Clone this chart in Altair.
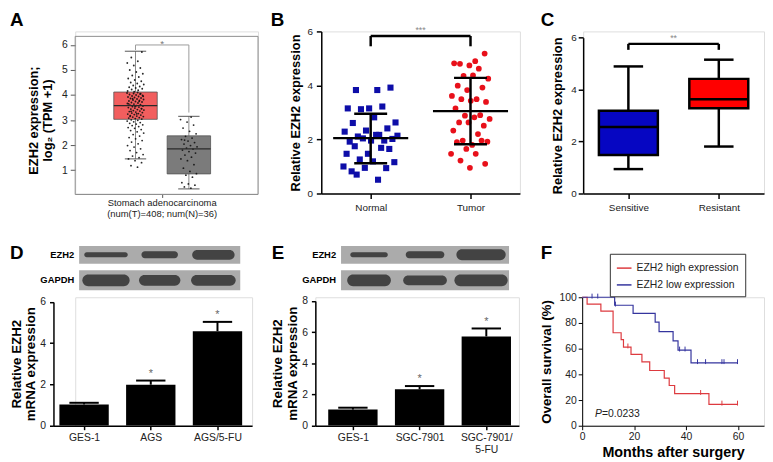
import altair as alt
import pandas as pd

FONT = "Liberation Sans"
LAB = "#222222"

# ---------------- Panel A data ----------------
a_groups = ["Tumor", "Normal"]
a_fill = ["#F25E5E", "#7B7B7B"]
a_lo = [1.45, 0.25]
a_q1 = [3.03, 0.85]
a_med = [3.58, 1.85]
a_q3 = [4.12, 2.37]
a_hi = [5.75, 3.15]
a_tumor = [
    1.12, 1.18, 1.3, 1.38, 1.45, 1.5, 1.56, 1.62, 1.7, 1.78, 1.85, 1.92, 1.98, 2.05, 2.12, 2.18, 2.25, 2.3, 2.36, 2.42, 2.48,
    2.53, 2.58, 2.62, 2.67, 2.7, 2.74, 2.78, 2.81, 2.84, 2.87, 2.9, 2.93, 2.96, 2.99, 3.01,
    3.04, 3.06, 3.08, 3.1, 3.12, 3.14, 3.16, 3.18, 3.2, 3.22, 3.24, 3.26, 3.28, 3.3, 3.32, 3.34, 3.36, 3.38,
    3.4, 3.42, 3.44, 3.46, 3.48, 3.5, 3.52, 3.54, 3.56, 3.58, 3.6, 3.62, 3.64, 3.66, 3.68, 3.7, 3.72, 3.74,
    3.76, 3.78, 3.8, 3.82, 3.84, 3.86, 3.88, 3.9, 3.92, 3.94, 3.96, 3.98, 4.0, 4.02, 4.04, 4.06, 4.08, 4.1,
    3.35, 3.45, 3.55, 3.65, 3.75, 3.85, 3.95, 3.25, 3.15, 4.05,
    4.13, 4.16, 4.19, 4.22, 4.25, 4.28, 4.31, 4.34, 4.38, 4.42, 4.46, 4.5, 4.55, 4.6, 4.66, 4.72, 4.78,
    4.85, 4.92, 5.0, 5.08, 5.18, 5.28, 5.35, 5.5, 5.72,
]
a_normal = [
    0.28, 0.33, 0.4, 0.45, 0.5, 0.72, 0.8, 0.86, 0.95, 1.08, 1.22, 1.38, 1.45, 1.52, 1.6, 1.68, 1.74, 1.8,
    1.84, 1.88, 1.93, 1.98, 2.04, 2.1, 2.16, 2.22, 2.28, 2.35, 2.45, 2.55, 2.68, 2.8, 2.92, 3.02, 3.12, 2.2,
]
a_sig = [6.0, 5.8, 3.3]
a_xlabel = "Stomach adenocarcinoma\n(num(T)=408; num(N)=36)"
a_ytitle = ["EZH2 expression;", "log\u2082 (TPM +1)"]

# ---------------- Panel B data ----------------
b_groups = ["Normal", "Tumor"]
b_normal = [3.83, 3.83, 3.92, 3.15, 3.15, 3.22, 3.12, 2.63, 2.82, 2.61, 2.41, 2.33, 2.29, 2.17, 2.11, 2.02,
            1.96, 1.92, 1.96, 2.04, 2.14, 2.17, 1.75, 1.65, 1.47, 1.47, 1.69, 1.26, 1.16, 1.19, 0.82, 0.94,
            0.95, 1.0, 0.51, 0.70]
b_tumor = [4.9, 4.8, 5.18, 4.74, 4.82, 4.62, 4.35, 4.25, 4.37, 3.99, 3.92, 3.83, 3.61, 3.49, 3.49, 3.39,
           3.43, 3.15, 2.9, 2.88, 2.76, 2.82, 2.63, 2.51, 2.63, 2.33, 2.2, 1.96, 1.92, 1.8, 1.9, 1.96, 1.65,
           1.47, 1.47, 1.22, 1.1, 0.95]
b_mean = [2.05, 3.05]
b_sd_lo = [1.12, 1.82]
b_sd_hi = [2.95, 4.28]
b_sig = [5.83, 5.45]

# ---------------- Panel C data ----------------
c_groups = ["Sensitive", "Resistant"]
c_fill = ["#0606C2", "#FF0000"]
c_lo = [0.93, 1.80]
c_q1 = [1.47, 3.28]
c_med = [2.55, 3.62]
c_q3 = [3.18, 4.41]
c_hi = [4.89, 5.15]
c_sig = [5.76, 5.53]

# ---------------- Panel D data ----------------
d_groups = ["GES-1", "AGS", "AGS/5-FU"]
d_mean = [1.02, 1.98, 4.58]
d_err = [1.10, 2.18, 5.03]
blot_rows = ["EZH2", "GAPDH"]
blot_top = [0.0, 1.1]
blot_bot = [0.8, 2.0]
d_band_w = [[0.81, 0.68, 0.79], [0.88, 0.77, 0.83]]
d_band_h = [[0.22, 0.31, 0.44], [0.53, 0.49, 0.49]]

# ---------------- Panel E data ----------------
e_groups = ["GES-1", "SGC-7901", "SGC-7901/\n5-FU"]
e_mean = [1.02, 2.32, 5.72]
e_err = [1.14, 2.53, 6.23]
e_band_w = [[0.67, 0.69, 0.88], [0.78, 0.78, 0.95]]
e_band_h = [[0.22, 0.31, 0.49], [0.53, 0.44, 0.53]]

# ---------------- Panel F data ----------------
f_groups = ["EZH2 high expression", "EZH2 low expression"]
f_colors = ["#DD3A3F", "#35359E"]
f_high_t = [0, 1.9, 7.2, 11.9, 15.0, 15.9, 18.8, 23.0, 26.0, 31.6, 33.5, 35.6, 48.8, 60.0]
f_high_s = [100, 94.6, 89.2, 72.4, 67.0, 61.2, 55.6, 49.7, 43.0, 37.0, 31.3, 25.0, 16.7, 16.7]
f_low_t = [0, 12.5, 19.6, 28.1, 29.6, 35.0, 36.9, 41.9, 60.0]
f_low_s = [100, 93.8, 87.5, 80.6, 73.3, 66.0, 58.8, 49.0, 49.0]
f_high_cens_t = [17.6, 45.6, 53.8, 59.8]
f_high_cens_s = [61.2, 25.0, 16.7, 16.7]
f_low_cens_t = [3.8, 6.0, 12.8, 37.5, 39.6, 44.4, 47.5, 53.8, 54.6, 59.8]
f_low_cens_s = [100, 100, 93.8, 58.8, 58.8, 49.0, 49.0, 49.0, 49.0, 49.0]
f_p_value = "=0.0233"

ONE = pd.DataFrame({"k": [0]})


def axis(**kw):
    base = dict(grid=False, labelFont=FONT, labelFontSize=10, labelColor=LAB, titleFont=FONT,
                titleFontWeight="bold", titleColor="black", domainColor="black", tickColor="black",
                labelPadding=3, labelFlush=False, labelOverlap=False)
    base.update(kw)
    return alt.Axis(**base)


def label_expr(names):
    parts = []
    for n in names:
        parts.append("[" + ",".join("'" + s + "'" for s in n.split("\n")) + "]")
    return "[" + ",".join(parts) + "][datum.value]"


def letter(ch, x, y):
    return alt.Chart(ONE).mark_text(text=ch, font=FONT, fontSize=19, fontWeight="bold", align="left",
                                    baseline="top", color="black").encode(x=alt.value(x), y=alt.value(y))


# ====================== Panel A ======================
xA = alt.Scale(domain=[-1.13, 2.296])
yA = alt.Scale(domain=[0, 6], range=[165.7, 13.7])
xAax = axis(values=[0.5], labels=False, domain=False, tickColor="#555", tickSize=4, title=None)
yAax = axis(values=[1, 2, 3, 4, 5, 6], domain=False, tickColor="#555", tickSize=5, labelFontSize=10.5,
            title=a_ytitle, titleFontSize=13, titleLineHeight=14, titlePadding=7)
XA = lambda f: alt.X(f, type="quantitative", scale=xA, axis=xAax)
YA = lambda f: alt.Y(f, type="quantitative", scale=yA, axis=yAax)

a_box = pd.DataFrame({"g": a_groups, "i": list(range(len(a_groups))), "lo": a_lo, "q1": a_q1,
                      "med": a_med, "q3": a_q3, "hi": a_hi})
a_base = alt.Chart(a_box).transform_calculate(l="datum.i - 0.407", r="datum.i + 0.407",
                                               cl="datum.i - 0.2", cr="datum.i + 0.2")
a_pts = pd.DataFrame({"g": [a_groups[0]] * len(a_tumor) + [a_groups[1]] * len(a_normal),
                      "i": [0] * len(a_tumor) + [1] * len(a_normal),
                      "v": a_tumor + a_normal})
a_br = pd.DataFrame({"x": [0, 0, 1], "x2": [1, 0, 1], "y": [a_sig[0]] * 3,
                     "y2": [a_sig[0], a_sig[1], a_sig[2]]})

A_frame = alt.Chart(ONE).mark_rect(fill="transparent", stroke="#8c8c8c", strokeWidth=1).encode(
    x=alt.value(0), x2=alt.value(185), y=alt.value(5), y2=alt.value(165))
A_wh = a_base.mark_rule(color="#8a8a8a", strokeWidth=1).encode(x=XA("i"), y=YA("hi"), y2=alt.Y2("q3"))
A_wl = a_base.mark_rule(color="#8a8a8a", strokeWidth=1).encode(x=XA("i"), y=YA("q1"), y2=alt.Y2("lo"))
A_ch = a_base.mark_rule(color="#555", strokeWidth=1).encode(x=XA("cl"), x2=alt.X2("cr"), y=YA("hi"))
A_cl = a_base.mark_rule(color="#555", strokeWidth=1).encode(x=XA("cl"), x2=alt.X2("cr"), y=YA("lo"))
A_box = a_base.mark_rect(stroke="#555", strokeWidth=0.8).encode(
    x=XA("l"), x2=alt.X2("r"), y=YA("q1"), y2=alt.Y2("q3"),
    fill=alt.Fill("g:N", scale=alt.Scale(domain=a_groups, range=a_fill), legend=None))
A_pts = alt.Chart(a_pts).transform_window(k="row_number()", groupby=["g"]).transform_calculate(
    xj="datum.i + ((datum.k * 0.618034) % 1 - 0.5) * 0.32").mark_circle(
    size=3.5, color="#111", opacity=0.9).encode(x=XA("xj"), y=YA("v"))
A_med = a_base.mark_rule(color="#2a2a2a", strokeWidth=1.2).encode(x=XA("l"), x2=alt.X2("r"), y=YA("med"))
A_br = alt.Chart(a_br).mark_rule(color="#9a9a9a", strokeWidth=1).encode(
    x=XA("x"), x2=alt.X2("x2"), y=YA("y"), y2=alt.Y2("y2"))
A_star = alt.Chart(pd.DataFrame({"x": [0.5], "y": [a_sig[0]], "t": ["*"]})).mark_text(
    font=FONT, fontSize=10, color="#777", baseline="middle", dy=-1).encode(x=XA("x"), y=YA("y"), text="t:N")
A_xl = alt.Chart(ONE).mark_text(text=a_xlabel, lineBreak="\n", font=FONT, fontSize=9.5, color=LAB,
                                baseline="top", align="center", lineHeight=11).encode(
    x=alt.value(88), y=alt.value(169))

panelA = alt.layer(A_frame, A_wh, A_wl, A_ch, A_cl, A_box, A_pts, A_med, A_br, A_star, A_xl,
                   letter("A", -66, -20)).properties(width=185, height=164)

# ====================== Panel B ======================
xB = alt.Scale(domain=[-0.495, 1.495])
yB = alt.Scale(domain=[0, 6])
xBax = axis(values=[0, 1], labelExpr=label_expr(b_groups), tickSize=5, domainWidth=1.5, tickWidth=1.5,
            labelPadding=4, title=None)
yBax = axis(values=[0, 2, 4, 6], tickSize=5, domainWidth=1.5, tickWidth=1.5, labelPadding=4,
            title="Relative EZH2 expression", titleFontSize=13, titlePadding=4)
XB = lambda f: alt.X(f, type="quantitative", scale=xB, axis=xBax)
YB = lambda f: alt.Y(f, type="quantitative", scale=yB, axis=yBax)

b_n = pd.DataFrame({"i": [0] * len(b_normal), "v": b_normal})
b_t = pd.DataFrame({"i": [1] * len(b_tumor), "v": b_tumor})
b_stats = pd.DataFrame({"i": [0, 1], "m": b_mean, "lo": b_sd_lo, "hi": b_sd_hi})
b_base = alt.Chart(b_stats).transform_calculate(ml="datum.i - 0.376", mr="datum.i + 0.376",
                                                 cl="datum.i - 0.165", cr="datum.i + 0.165")
b_br = pd.DataFrame({"x": [0, 0, 1], "x2": [1, 0, 1], "y": [b_sig[0]] * 3,
                     "y2": [b_sig[0], b_sig[1], b_sig[1]]})

B_n = alt.Chart(b_n).transform_window(k="row_number()").transform_calculate(
    xj="datum.i + ((datum.k * 0.618034) % 1 - 0.5) * 0.56").mark_square(
    size=38, color="#0d0da8", opacity=1).encode(x=XB("xj"), y=YB("v"))
B_t = alt.Chart(b_t).transform_window(k="row_number()").transform_calculate(
    xj="datum.i + ((datum.k * 0.618034) % 1 - 0.5) * 0.4").mark_circle(
    size=34, color="#E8101A", opacity=1).encode(x=XB("xj"), y=YB("v"))
B_mean = b_base.mark_rule(color="black", strokeWidth=2.5).encode(x=XB("ml"), x2=alt.X2("mr"), y=YB("m"))
B_sd = b_base.mark_rule(color="black", strokeWidth=2.5).encode(x=XB("i"), y=YB("lo"), y2=alt.Y2("hi"))
B_c1 = b_base.mark_rule(color="black", strokeWidth=2.5).encode(x=XB("cl"), x2=alt.X2("cr"), y=YB("lo"))
B_c2 = b_base.mark_rule(color="black", strokeWidth=2.5).encode(x=XB("cl"), x2=alt.X2("cr"), y=YB("hi"))
B_br = alt.Chart(b_br).mark_rule(color="black", strokeWidth=2.5).encode(
    x=XB("x"), x2=alt.X2("x2"), y=YB("y"), y2=alt.Y2("y2"))
B_star = alt.Chart(pd.DataFrame({"x": [0.5], "y": [b_sig[0]], "t": ["***"]})).mark_text(
    font=FONT, fontSize=9, color="#888", baseline="middle", dy=-6).encode(x=XB("x"), y=YB("y"), text="t:N")

panelB = alt.layer(B_n, B_t, B_mean, B_sd, B_c1, B_c2, B_br, B_star,
                   letter("B", -51, -20)).properties(width=201, height=164)

# ====================== Panel C ======================
xC = alt.Scale(domain=[-0.5, 1.5])
yC = alt.Scale(domain=[0, 6], range=[163.7, 6.3])
xCax = axis(values=[0, 1], labelExpr=label_expr(c_groups), tickSize=5, domainWidth=1.5, tickWidth=1.5,
            labelPadding=4, title=None)
yCax = axis(values=[0, 2, 4, 6], tickSize=5, domainWidth=1.5, tickWidth=1.5, labelPadding=2,
            title="Relative EZH2 expression", titleFontSize=13, titlePadding=6)
XC = lambda f: alt.X(f, type="quantitative", scale=xC, axis=xCax)
YC = lambda f: alt.Y(f, type="quantitative", scale=yC, axis=yCax)

c_box = pd.DataFrame({"g": c_groups, "i": [0, 1], "lo": c_lo, "q1": c_q1, "med": c_med, "q3": c_q3,
                      "hi": c_hi})
c_base = alt.Chart(c_box).transform_calculate(l="datum.i - 0.326", r="datum.i + 0.326",
                                               cl="datum.i - 0.163", cr="datum.i + 0.163")
c_br = pd.DataFrame({"x": [0, 0, 1], "x2": [1, 0, 1], "y": [c_sig[0]] * 3,
                     "y2": [c_sig[0], c_sig[1], c_sig[1]]})

C_wh = c_base.mark_rule(color="black", strokeWidth=2.5).encode(x=XC("i"), y=YC("hi"), y2=alt.Y2("q3"))
C_wl = c_base.mark_rule(color="black", strokeWidth=2.5).encode(x=XC("i"), y=YC("q1"), y2=alt.Y2("lo"))
C_ch = c_base.mark_rule(color="black", strokeWidth=2.5).encode(x=XC("cl"), x2=alt.X2("cr"), y=YC("hi"))
C_cl = c_base.mark_rule(color="black", strokeWidth=2.5).encode(x=XC("cl"), x2=alt.X2("cr"), y=YC("lo"))
C_box = c_base.mark_rect(stroke="black", strokeWidth=2.5).encode(
    x=XC("l"), x2=alt.X2("r"), y=YC("q1"), y2=alt.Y2("q3"),
    fill=alt.Fill("g:N", scale=alt.Scale(domain=c_groups, range=c_fill), legend=None))
C_med = c_base.mark_rule(color="black", strokeWidth=2.5).encode(x=XC("l"), x2=alt.X2("r"), y=YC("med"))
C_br = alt.Chart(c_br).mark_rule(color="black", strokeWidth=2.5).encode(
    x=XC("x"), x2=alt.X2("x2"), y=YC("y"), y2=alt.Y2("y2"))
C_star = alt.Chart(pd.DataFrame({"x": [0.5], "y": [c_sig[0]], "t": ["**"]})).mark_text(
    font=FONT, fontSize=9, color="#888", baseline="middle", dy=-6).encode(x=XC("x"), y=YC("y"), text="t:N")

panelC = alt.layer(C_wh, C_wl, C_ch, C_cl, C_box, C_med, C_br, C_star,
                   letter("C", -43, -20)).properties(width=183, height=164)


# ====================== Panels D and E (bars + blot) ======================
def bar_panel(groups, means, errs, band_w, band_h, xdom, xrange, ydom, yrange, yvalues, yoffset,
              blot_range, width, let, let_xy):
    xs = alt.Scale(domain=xdom, range=xrange) if xrange else alt.Scale(domain=xdom)
    ys = alt.Scale(domain=ydom, range=yrange)
    xax = axis(values=list(range(len(groups))), labelExpr=label_expr(groups), tickSize=4, domainWidth=1.5,
               tickWidth=1.5, labelFontSize=10.5, labelLineHeight=12, title=None)
    yax = axis(values=yvalues, offset=yoffset, tickSize=4, domainWidth=1.5, tickWidth=1.5, labelPadding=4,
               labelFontSize=10.5, title=["Relative EZH2", "mRNA expression"], titleFontSize=13.5,
               titleLineHeight=15, titlePadding=2)
    X = lambda f: alt.X(f, type="quantitative", scale=xs, axis=xax)
    Y = lambda f: alt.Y(f, type="quantitative", scale=ys, axis=yax)
    df = pd.DataFrame({"i": list(range(len(groups))), "m": means, "e": errs})
    base = alt.Chart(df).transform_calculate(l="datum.i - 0.37", r="datum.i + 0.37",
                                             cl="datum.i - 0.22", cr="datum.i + 0.22", z="0")
    bars = base.mark_rect(color="black").encode(x=X("l"), x2=alt.X2("r"), y=Y("z"), y2=alt.Y2("m"))
    err = base.mark_rule(color="black", strokeWidth=2).encode(x=X("i"), y=Y("m"), y2=alt.Y2("e"))
    cap = base.mark_rule(color="black", strokeWidth=2).encode(x=X("cl"), x2=alt.X2("cr"), y=Y("e"))
    stars = alt.Chart(df.iloc[1:]).transform_calculate(s="'*'").mark_text(
        font=FONT, fontSize=11, color="#666", baseline="middle", dy=-7).encode(x=X("i"), y=Y("e"), text="s:N")
    main = alt.layer(bars, err, cap, stars, letter(let, *let_xy))

    # western blot strips
    bx = alt.Scale(domain=[-0.5, len(groups) - 0.5], range=blot_range)
    by = alt.Scale(domain=[0, 2], range=[-52, -7])
    BX = lambda f: alt.X(f, type="quantitative", scale=bx, axis=None)
    BY = lambda f: alt.Y(f, type="quantitative", scale=by, axis=None)
    strips = pd.DataFrame({"name": blot_rows, "t": blot_top, "b": blot_bot})
    rows = []
    for r, name in enumerate(blot_rows):
        for lane in range(len(groups)):
            rows.append({"row": name, "lane": lane, "w": band_w[r][lane], "h": band_h[r][lane],
                         "c": (blot_top[r] + blot_bot[r]) / 2})
    bands = pd.DataFrame(rows)
    s_base = alt.Chart(strips).transform_calculate(xl="-0.5", xr=f"{len(groups) - 0.5}",
                                                   c="(datum.t + datum.b) / 2")
    strip_l = s_base.mark_rect(color="#ABABAB").encode(x=BX("xl"), x2=alt.X2("xr"), y=BY("t"), y2=alt.Y2("b"))
    band_l = alt.Chart(bands).transform_calculate(
        x1="datum.lane - datum.w / 2", x2="datum.lane + datum.w / 2",
        y1="datum.c - datum.h / 2", y2="datum.c + datum.h / 2").mark_rect(
        color="#3A3A3A", cornerRadius=8, opacity=0.92).encode(
        x=BX("x1"), x2=alt.X2("x2"), y=BY("y1"), y2=alt.Y2("y2"))
    lab_l = s_base.mark_text(font=FONT, fontSize=9.5, fontWeight="bold", color="black", align="right",
                             baseline="middle", dx=-5).encode(x=BX("xl"), y=BY("c"), text="name:N")
    blot = alt.layer(strip_l, band_l, lab_l)
    return alt.layer(main, blot).resolve_scale(x="independent", y="independent").properties(
        width=width, height=130)


panelD = bar_panel(d_groups, d_mean, d_err, d_band_w, d_band_h, [-0.459, 2.519], [-22, 179], [0, 6],
                   [129.7, 4.7], [0, 2, 4, 6], 22, [4, 167], 179, "D", (-66, -54))
panelE = bar_panel(e_groups, e_mean, e_err, e_band_w, e_band_h, [-0.563, 2.489], None, [0, 8],
                   [129.7, 3.7], [0, 2, 4, 6, 8], 0, [26, 196], 206, "E", (-44, -54))

# ====================== Panel F ======================
xF = alt.Scale(domain=[0, 70])
yF = alt.Scale(domain=[0, 100])
xFax = axis(values=[0, 20, 40, 60], tickSize=4, labelFontSize=10.5, labelPadding=2,
            title="Months after surgery", titleFontSize=14.5, titlePadding=4)
yFax = axis(values=[0, 20, 40, 60, 80, 100], tickSize=4, labelFontSize=10.5, labelPadding=2,
            title="Overall survival (%)", titleFontSize=13.5, titlePadding=6)
XF = lambda f: alt.X(f, type="quantitative", scale=xF, axis=xFax)
YF = lambda f: alt.Y(f, type="quantitative", scale=yF, axis=yFax)
f_color = alt.Color("grp:N", scale=alt.Scale(domain=f_groups, range=f_colors),
                    legend=alt.Legend(orient="none", legendX=28, legendY=-44, title=None, strokeColor="#333",
                                      fillColor="white", padding=6, labelFont=FONT, labelFontSize=10.5,
                                      labelColor=LAB, symbolType="stroke", symbolSize=220,
                                      symbolStrokeWidth=1.5, rowPadding=3))
f_lines = pd.DataFrame({"t": f_high_t + f_low_t, "s": f_high_s + f_low_s,
                        "grp": [f_groups[0]] * len(f_high_t) + [f_groups[1]] * len(f_low_t)})
f_cens = pd.DataFrame({"t": f_high_cens_t + f_low_cens_t, "s": f_high_cens_s + f_low_cens_s,
                       "grp": [f_groups[0]] * len(f_high_cens_t) + [f_groups[1]] * len(f_low_cens_t)})
F_lines = alt.Chart(f_lines).mark_line(interpolate="step-after", strokeWidth=1.2).encode(
    x=XF("t"), y=YF("s"), color=f_color)
F_cens = alt.Chart(f_cens).transform_calculate(s1="datum.s - 1", s2="datum.s + 2.8").mark_rule(
    strokeWidth=1).encode(x=XF("t"), y=YF("s1"), y2=alt.Y2("s2"), color=f_color)
F_p1 = alt.Chart(ONE).mark_text(text="P", font=FONT, fontSize=10.5, fontStyle="italic", color=LAB,
                                align="left", baseline="middle").encode(x=alt.value(13), y=alt.value(118))
F_p2 = alt.Chart(ONE).mark_text(text=f_p_value, font=FONT, fontSize=10.5, color=LAB,
                                align="left", baseline="middle").encode(x=alt.value(20), y=alt.value(118))
panelF = alt.layer(F_lines, F_cens, F_p1, F_p2, letter("F", -42, -54)).properties(width=184, height=130)

# ====================== Layout ======================
res = dict(x="independent", y="independent", fill="independent", color="independent")
top = alt.hconcat(panelA, panelB, panelC, spacing=64, bounds="flush").resolve_scale(**res)
bottom = alt.hconcat(panelD, panelE, panelF, spacing=64, bounds="flush").resolve_scale(**res)
# nested rows contribute no height in a flush layout, so the spacing is row height + gap
chart = alt.vconcat(top, bottom, spacing=269, bounds="flush").resolve_scale(**res).properties(
    padding=0, background="white").configure_view(stroke=None).configure(font=FONT)

chart.save("out.html", embed_options={"renderer": "svg", "actions": False})
